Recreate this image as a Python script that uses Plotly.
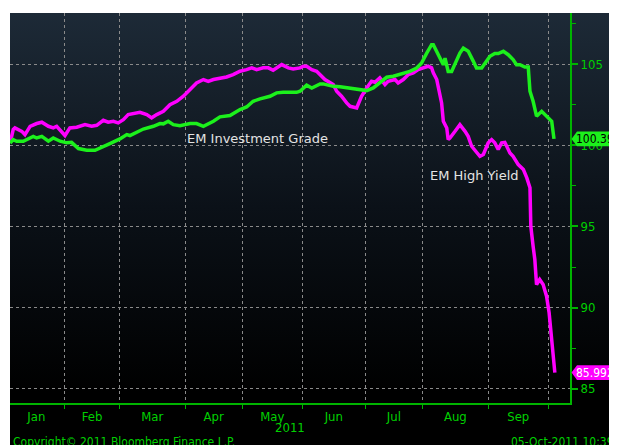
import base64
import plotly.graph_objects as go

# ---------------- data ----------------
MONTHS = ["Jan", "Feb", "Mar", "Apr", "May", "Jun", "Jul", "Aug", "Sep"]
TRADING_DAYS = [20, 19, 23, 20, 21, 22, 20, 23, 21]   # trading days per month, 2011
Y_TICKS = [85, 90, 95, 100, 105]
YEAR_LABEL = "2011"

# x = trading-day index since start of 2011
IG_X = [0.8, 1.9, 3.1, 5.4, 8.9, 10.1, 11.9, 14.2, 15.9, 18.3, 20.6, 22.3, 24.7, 27.6, 30.5,
        32.2, 35.7, 39.2, 41.6, 42.7, 45.1, 47.4, 50.9, 53.2, 54.4, 56.1, 57.9, 60.2, 63.7,
        66.0, 68.4, 71.9, 74.2, 77.7, 81.2, 83.5, 85.8, 88.2, 91.7, 94.0, 96.3, 101.0, 102.2,
        104.5, 106.3, 109.2, 110.3, 113.8, 116.2, 119.7, 123.1, 125.5, 127.8, 130.1, 132.5,
        134.8, 137.1, 140.6, 143.0, 144.7, 146.5, 148.2, 148.8, 150.5, 152.3, 152.9, 154.0,
        155.2, 156.4, 158.1, 159.3, 161.0, 162.8, 163.9, 165.7, 166.9, 168.6, 170.3, 171.5,
        173.3, 175.0, 176.7, 177.9, 179.1, 180.8, 182.0, 182.6, 183.7, 184.9, 186.7, 188.4,
        190.2, 191.0]
IG_Y = [100.14, 100.35, 100.25, 100.25, 100.55, 100.45, 100.55, 100.25, 100.45, 100.25, 100.15,
        100.18, 99.80, 99.69, 99.69, 99.84, 100.10, 100.39, 100.66, 100.60, 100.80, 101.00,
        101.17, 101.34, 101.32, 101.48, 101.27, 101.21, 101.34, 101.34, 101.17, 101.48, 101.75,
        101.83, 102.20, 102.36, 102.71, 102.86, 103.02, 103.23, 103.26, 103.26, 103.33, 103.70,
        103.53, 103.78, 103.78, 103.63, 103.60, 103.53, 103.43, 103.37, 103.53, 103.84, 104.19,
        104.25, 104.35, 104.55, 104.76, 105.07, 105.68, 106.20, 106.20, 105.58, 104.96, 105.37,
        104.55, 104.55, 105.07, 105.68, 105.99, 105.79, 105.17, 104.76, 104.76, 105.07, 105.48,
        105.65, 105.65, 105.79, 105.58, 105.28, 104.96, 104.96, 104.82, 104.82, 103.33, 102.71,
        101.79, 102.09, 101.79, 101.48, 100.394]

HY_X = [0.8, 1.9, 2.5, 4.9, 6.0, 7.8, 10.1, 11.9, 14.2, 15.9, 17.1, 18.8, 20.0, 21.7, 24.1,
        27.0, 29.3, 31.1, 33.4, 35.1, 36.9, 38.6, 40.4, 42.1, 45.1, 46.2, 48.6, 50.3, 52.1,
        54.4, 56.7, 59.1, 61.4, 63.7, 66.0, 68.4, 70.1, 71.9, 74.2, 76.5, 78.8, 81.2, 83.5,
        85.3, 87.0, 89.3, 91.1, 92.8, 95.8, 98.1, 99.8, 102.2, 103.3, 104.5, 106.3, 108.0,
        110.9, 112.7, 113.8, 115.0, 116.7, 118.5, 119.7, 122.0, 123.7, 125.5, 127.2, 128.4,
        130.1, 131.9, 133.0, 135.4, 136.5, 138.3, 140.0, 141.8, 143.5, 145.3, 147.0, 148.2,
        148.8, 150.0, 151.1, 151.7, 152.3, 153.5, 154.0, 154.6, 156.4, 158.1, 159.9, 161.0,
        162.2, 163.9, 165.1, 166.3, 168.0, 169.2, 170.3, 171.5, 172.7, 173.8, 175.6, 176.7,
        178.5, 180.3, 181.5, 182.6, 182.9, 183.7, 184.3, 184.9, 186.0, 187.2, 188.4, 189.3,
        190.2, 191.3]
HY_Y = [100.14, 100.97, 101.07, 100.86, 100.66, 101.17, 101.34, 101.42, 101.17, 101.07, 101.17,
        100.86, 100.60, 101.07, 101.11, 101.27, 101.17, 101.23, 101.54, 101.42, 101.48, 101.38,
        101.58, 101.89, 101.99, 102.03, 101.89, 101.69, 101.89, 102.09, 102.50, 102.71, 103.02,
        103.43, 103.84, 104.05, 103.94, 104.05, 104.11, 104.21, 104.35, 104.56, 104.66, 104.77,
        104.66, 104.77, 104.77, 104.62, 104.97, 104.77, 104.70, 104.77, 104.87, 104.87, 104.66,
        104.56, 104.05, 103.84, 103.74, 103.33, 103.02, 102.61, 102.40, 102.30, 103.02, 103.53,
        103.94, 103.88, 104.15, 103.74, 103.94, 104.05, 103.84, 104.05, 104.35, 104.46, 104.66,
        104.77, 104.87, 104.77, 104.46, 104.05, 103.22, 102.61, 101.48, 101.07, 100.35, 100.45,
        100.86, 101.27, 100.86, 100.55, 99.94, 99.53, 99.32, 99.43, 100.15, 100.35, 100.15,
        99.74, 100.15, 100.18, 99.53, 99.32, 98.81, 98.50, 97.99, 97.38, 95.01, 93.78, 92.96,
        91.42, 91.73, 91.42, 90.70, 89.68, 88.04, 85.992]

IG_NAME = "EM Investment Grade"
HY_NAME = "EM High Yield"

# ---------------- styling ----------------
GREEN_LINE = "#1cf01c"
MAGENTA = "#ff00ff"
AXIS_GREEN = "#00b400"
TEXT_GREEN = "#00d000"
GRID = "#8a8a8a"
NARROW = "Liberation Sans Narrow, Arial Narrow, DejaVu Sans Condensed, sans-serif"
LABEL_FONT = "DejaVu Sans, Verdana, sans-serif"

bounds = []
acc = 0
for d in TRADING_DAYS:
    acc += d
    bounds.append(acc)
centers = []
prev = 0
for b in bounds:
    centers.append((prev + b) / 2)
    prev = b

X_RANGE = [0.77, 196.6]
Y_RANGE = [84.12, 108.15]

fig = go.Figure()
fig.add_trace(go.Scatter(x=HY_X, y=HY_Y, mode="lines", name=HY_NAME,
                         line=dict(color=MAGENTA, width=3.5), hoverinfo="skip"))
fig.add_trace(go.Scatter(x=IG_X, y=IG_Y, mode="lines", name=IG_NAME,
                         line=dict(color=GREEN_LINE, width=3.5), hoverinfo="skip"))

# gradient background panel
svg = ('<svg xmlns="http://www.w3.org/2000/svg" width="607" height="432" preserveAspectRatio="none">'
       '<defs><linearGradient id="g" x1="0" y1="0" x2="0" y2="1">'
       '<stop offset="0" stop-color="#1d2a37"/>'
       '<stop offset="0.45" stop-color="#0b1118"/>'
       '<stop offset="0.88" stop-color="#000000"/>'
       '<stop offset="1" stop-color="#000000"/>'
       '</linearGradient></defs>'
       '<rect width="607" height="432" fill="url(#g)"/></svg>')
src = "data:image/svg+xml;base64," + base64.b64encode(svg.encode()).decode()

PW, PH = 560.0, 390.0

# page has an 8px body margin: figure is 609x437 placed at (8,8)
fig.update_layout(
    width=609, height=437, autosize=False,
    margin=dict(l=2, r=47, t=5, b=42, pad=0),
    paper_bgcolor="white", plot_bgcolor="rgba(0,0,0,0)",
    showlegend=False,
    images=[dict(source=src, xref="paper", yref="paper", x=0, y=1,
                 sizex=607 / PW, sizey=432 / PH, xanchor="left", yanchor="top",
                 sizing="stretch", layer="below")],
    xaxis=dict(range=X_RANGE, tickmode="array", tickvals=centers, ticktext=MONTHS,
               ticks="", showgrid=False, zeroline=False, showline=True,
               linecolor=AXIS_GREEN, linewidth=2,
               tickfont=dict(family=NARROW, size=13, color=TEXT_GREEN),
               minor=dict(tickmode="array", tickvals=bounds, ticks="outside", ticklen=4,
                          tickwidth=1, tickcolor=AXIS_GREEN, showgrid=True,
                          gridcolor=GRID, griddash="dot", gridwidth=1)),
    yaxis=dict(range=Y_RANGE, side="right", tickmode="array", tickvals=Y_TICKS,
               ticks="outside", ticklen=6, tickwidth=2, tickcolor=AXIS_GREEN,
               showgrid=True, gridcolor=GRID, griddash="dot", gridwidth=1,
               zeroline=False, showline=True, linecolor=AXIS_GREEN, linewidth=2,
               tickfont=dict(family=NARROW, size=13, color=TEXT_GREEN),
               minor=dict(tick0=0, dtick=2.5, ticks="outside", ticklen=4, tickwidth=1,
                          tickcolor=AXIS_GREEN, showgrid=False)),
)

def px2paper_x(px):
    return (px - 10) / PW

def px2paper_y(py):
    return (403 - py) / PH

# last-value tags
for val, col, txtcol in [(IG_Y[-1], GREEN_LINE, "black"), (HY_Y[-1], MAGENTA, "white")]:
    h = 0.45
    x0 = px2paper_x(571.5)
    x1 = px2paper_x(577)
    x2 = px2paper_x(640)
    path = (f"M {x0},{val} L {x1},{val + h} L {x2},{val + h} "
            f"L {x2},{val - h} L {x1},{val - h} Z")
    fig.add_shape(type="path", path=path, xref="paper", yref="y",
                  fillcolor=col, line=dict(width=0), layer="above")
    fig.add_annotation(x=px2paper_x(575), y=val, xref="paper", yref="y",
                       text=f"{val:.3f}", showarrow=False, xanchor="left",
                       yanchor="middle", borderpad=0,
                       font=dict(family=NARROW, size=12, color=txtcol))

# series labels
fig.add_annotation(x=px2paper_x(185), y=px2paper_y(138), xref="paper", yref="paper",
                   text=IG_NAME, showarrow=False, xanchor="left", yanchor="middle",
                   font=dict(family=LABEL_FONT, size=13, color="#e4e4e4"))
fig.add_annotation(x=px2paper_x(428), y=px2paper_y(176), xref="paper", yref="paper",
                   text=HY_NAME, showarrow=False, xanchor="left", yanchor="middle",
                   font=dict(family=LABEL_FONT, size=13, color="#e4e4e4"))

# year label
fig.add_annotation(x=px2paper_x(290), y=px2paper_y(427), xref="paper", yref="paper",
                   text=YEAR_LABEL, showarrow=False, xanchor="center", yanchor="middle",
                   font=dict(family=NARROW, size=13, color=TEXT_GREEN))
# footer
fig.add_annotation(x=px2paper_x(11), y=px2paper_y(433), xref="paper", yref="paper",
                   text="Copyright© 2011 Bloomberg Finance L.P.", showarrow=False,
                   xanchor="left", yanchor="top",
                   font=dict(family=NARROW, size=12, color=TEXT_GREEN))
fig.add_annotation(x=px2paper_x(509), y=px2paper_y(433), xref="paper", yref="paper",
                   text="05-Oct-2011 10:39:47", showarrow=False,
                   xanchor="left", yanchor="top",
                   font=dict(family=NARROW, size=12, color=TEXT_GREEN))

fig.write_html("out.html")
